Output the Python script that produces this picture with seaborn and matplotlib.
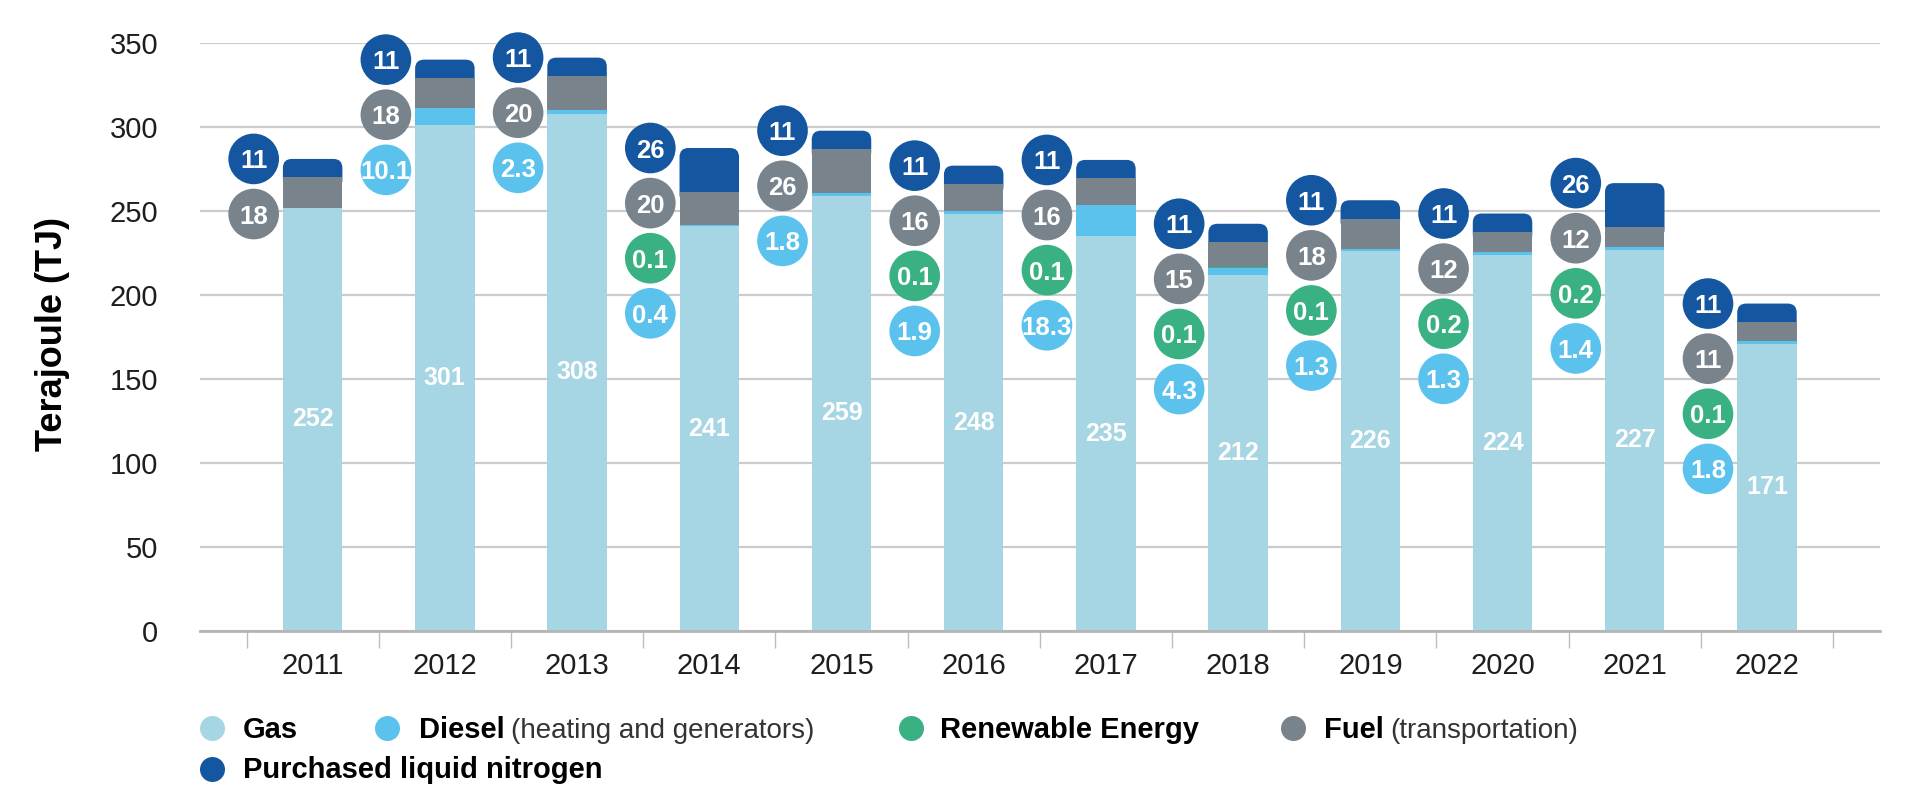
import numpy as np
import pandas as pd
import matplotlib
matplotlib.use("Agg")
import matplotlib.pyplot as plt
import seaborn as sns
from matplotlib.patches import FancyBboxPatch
from matplotlib.lines import Line2D

# ---------------- data ----------------
years = ["2011", "2012", "2013", "2014", "2015", "2016",
         "2017", "2018", "2019", "2020", "2021", "2022"]
gas = [252, 301, 308, 241, 259, 248, 235, 212, 226, 224, 227, 171]
diesel = [0, 10.1, 2.3, 0.4, 1.8, 1.9, 18.3, 4.3, 1.3, 1.3, 1.4, 1.8]
renewable = [0, 0, 0, 0.1, 0, 0.1, 0.1, 0.1, 0.1, 0.2, 0.2, 0.1]
fuel = [18, 18, 20, 20, 26, 16, 16, 15, 18, 12, 12, 11]
nitrogen = [11, 11, 11, 26, 11, 11, 11, 11, 11, 11, 26, 11]
y_ticks = [0, 50, 100, 150, 200, 250, 300, 350]

C_GAS = "#A6D5E3"
C_DIESEL = "#5BC2EE"
C_RENEW = "#3AB183"
C_FUEL = "#78838C"
C_NITRO = "#1456A0"
GRID = "#CBCBCB"
TXT = "#1E1E1E"

W, H = 1931, 808
sns.set_style("white")
plt.rcParams["font.family"] = ["Liberation Sans", "DejaVu Sans"]

fig = plt.figure(figsize=(W / 100, H / 100), dpi=100)
ax = fig.add_axes([200 / W, (H - 631) / H, 1680 / W, (631 - 43) / H])

g = np.array(gas, float)
d = np.array(diesel, float)
r = np.array(renewable, float)
f = np.array(fuel, float)
n = np.array(nitrogen, float)

layers = [
    (g + d + r + f + n, C_NITRO),
    (g + d + r + f, C_FUEL),
    (g + d + r, C_RENEW),
    (g + d, C_DIESEL),
    (g, C_GAS),
]
for vals, col in layers:
    sns.barplot(x=years, y=vals, order=years, color=col, saturation=1,
                width=0.45, errorbar=None, linewidth=0, edgecolor="none",
                ax=ax)

xlim = (-0.852, 11.855)
ylim = (0, 350)
ax.set_xlim(*xlim)
ax.set_ylim(*ylim)

for p in ax.patches:
    p.set_zorder(2)

# rounded top for the outermost layer (only the top segment, tucked under the fuel layer)
px_per_x = 1680 / (xlim[1] - xlim[0])
px_per_y = 588 / (ylim[1] - ylim[0])
aspect = px_per_x / px_per_y
below = g + d + r + f
top_patches = list(ax.patches[:len(years)])
for i, p in enumerate(top_patches):
    x0, w = p.get_x(), p.get_width()
    top = p.get_y() + p.get_height()
    y0 = below[i] - 7
    fb = FancyBboxPatch((x0, y0), w, top - y0,
                        boxstyle="round,pad=0,rounding_size=%f" % (9 / px_per_x),
                        mutation_aspect=aspect, facecolor=C_NITRO,
                        edgecolor="none", zorder=1.5)
    p.set_visible(False)
    ax.add_patch(fb)

# gas value labels
for i, v in enumerate(gas):
    ax.text(i, v / 2, f"{v:g}", color="white", ha="center", va="center",
            fontsize=18, fontweight="bold", zorder=4)

# bubbles
def fmt(v):
    return f"{int(v)}" if float(v).is_integer() else f"{v:.1f}"

bx, by, bc, bl = [], [], [], []
step = 32.8
for i in range(len(years)):
    total = g[i] + d[i] + r[i] + f[i] + n[i]
    items = [(n[i], "nitrogen"), (f[i], "fuel")]
    if r[i] > 0:
        items.append((r[i], "renewable"))
    if d[i] > 0:
        items.append((d[i], "diesel"))
    for k, (v, s) in enumerate(items):
        bx.append(i - 0.446)
        by.append(total - k * step)
        bc.append(s)
        bl.append(fmt(v))

pal = {"nitrogen": C_NITRO, "fuel": C_FUEL, "renewable": C_RENEW, "diesel": C_DIESEL}
bub = pd.DataFrame({"x": bx, "y": by, "series": bc})
sns.scatterplot(data=bub, x="x", y="y", hue="series", palette=pal, s=1330,
                linewidth=0, legend=False, ax=ax, clip_on=False, zorder=3)
for x, y, t in zip(bx, by, bl):
    ax.text(x, y, t, color="white", ha="center", va="center_baseline",
            fontsize=18.5, fontweight="bold", zorder=5)

ax.set_xlim(*xlim)
ax.set_ylim(*ylim)

# axes styling
for s in ["top", "right", "left"]:
    ax.spines[s].set_visible(False)
ax.spines["bottom"].set_color("#B5B5B5")
ax.spines["bottom"].set_linewidth(2)
ax.set_axisbelow(True)
ax.yaxis.grid(True, color=GRID, linewidth=1.6)
ax.xaxis.grid(False)
ax.set_yticks(y_ticks)
ax.set_yticklabels([str(t) for t in y_ticks])
ax.tick_params(axis="y", length=0, pad=30, labelsize=21, labelcolor=TXT)
ax.set_xticks(range(len(years)))
ax.set_xticklabels(years)
ax.tick_params(axis="x", which="major", length=0, pad=15, labelsize=21,
               labelcolor=TXT)
ax.set_xticks(np.arange(-0.5, len(years), 1.0), minor=True)
ax.tick_params(axis="x", which="minor", length=12, width=1, color="#BDBDBD",
               direction="out", bottom=True)
ax.set_xlabel("")
ax.set_ylabel("Terajoule (TJ)", fontsize=26, fontweight="bold", color="black")
ax.yaxis.set_label_coords((70 - 200) / 1680, 0.505)

# legend (manual)
fig.canvas.draw()
rend = fig.canvas.get_renderer()
legend_items = [
    (212, 728, 243, 738, C_GAS, "Gas", None),
    (387, 728, 419, 738, C_DIESEL, "Diesel", "(heating and generators)"),
    (911, 728, 940, 738, C_RENEW, "Renewable Energy", None),
    (1293, 728, 1324, 738, C_FUEL, "Fuel", "(transportation)"),
    (212, 769, 243, 778, C_NITRO, "Purchased liquid nitrogen", None),
]
for mx, my, tx, ty, col, bold, normal in legend_items:
    fig.add_artist(Line2D([mx / W], [1 - my / H], marker="o", markersize=18,
                          markerfacecolor=col, markeredgewidth=0, linestyle="none",
                          transform=fig.transFigure))
    t = fig.text(tx / W, 1 - ty / H, bold, fontsize=21, fontweight="bold",
                 color="black", va="baseline", ha="left")
    if normal:
        bb = t.get_window_extent(renderer=rend)
        fig.text((bb.x1 + 6) / W, 1 - ty / H, normal, fontsize=20,
                 color="#333333", va="baseline", ha="left")

fig.savefig("out.png", dpi=100)
